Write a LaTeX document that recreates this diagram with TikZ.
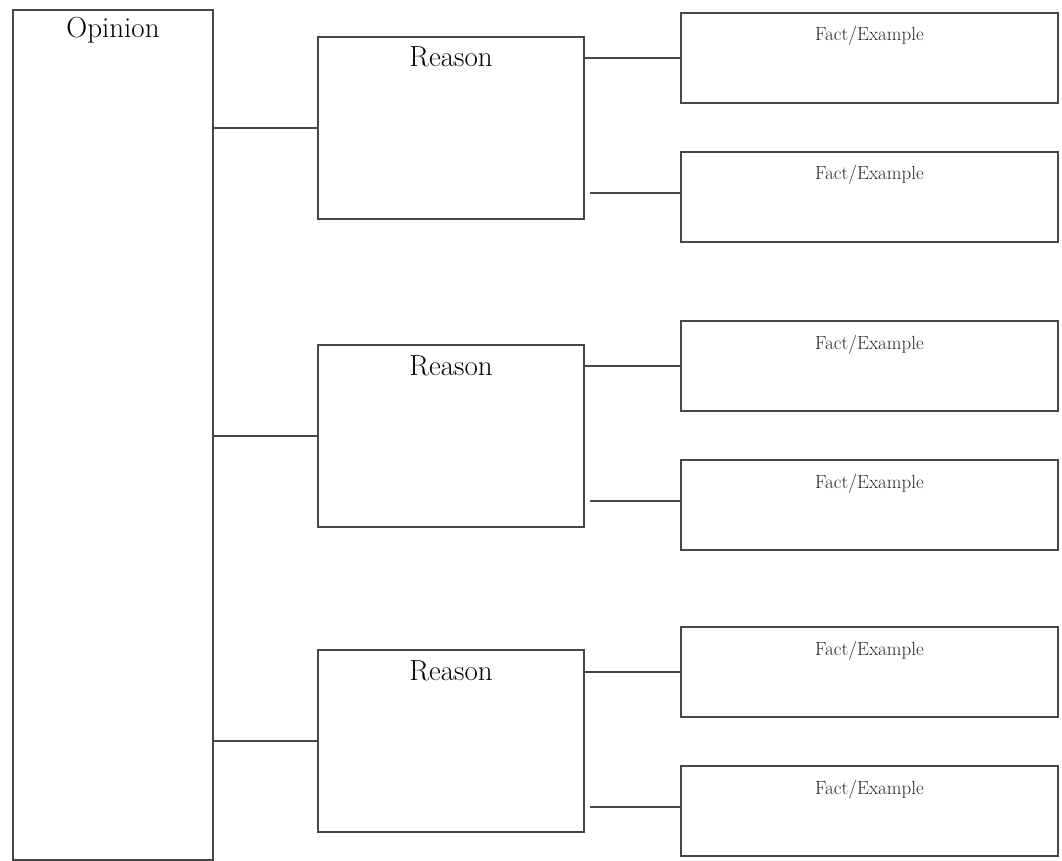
\documentclass[tikz,border=0pt]{standalone}
\begin{document}
\begin{tikzpicture}[x=1pt,y=-1pt,
  box/.style={draw=black!72,line width=1.9pt,rectangle,inner sep=0pt,outer sep=0pt,anchor=north west},
  conn/.style={draw=black!72,line width=1.9pt},
  bigtext/.style={anchor=base,font=\fontsize{29}{30}\selectfont,text=black},
  smalltext/.style={anchor=base,font=\fontsize{19}{20}\selectfont,text=black!85}]
\useasboundingbox (0,0) rectangle (1062,861);

% opinion column
\node[box,minimum width=200pt,minimum height=850pt] (op) at (13,10) {};
\node[bigtext] (opt) at ([yshift=-28pt]op.north) {Opinion};

% reason boxes
\foreach \i/\y in {1/37,2/345,3/650}{
  \node[box,minimum width=266pt,minimum height=182pt] (r\i) at (318,\y) {};
  \node[bigtext] (rt\i) at ([yshift=-30pt]r\i.north) {Reason};
}

% fact / example boxes
\foreach \i/\y in {1/13,2/152,3/321,4/460,5/627,6/766}{
  \node[box,minimum width=377pt,minimum height=90pt] (f\i) at (681,\y) {};
  \node[smalltext] (ft\i) at ([yshift=-28pt]f\i.north) {Fact/Example};
}

% opinion to reasons
\foreach \i in {1,2,3}{
  \draw[conn] (op.east |- r\i.west) -- (r\i.west);
}

% reasons to facts
\foreach \r/\a/\b in {1/1/2,2/3/4,3/5/6}{
  \draw[conn] (r\r.east |- f\a.west) -- (f\a.west);
  \draw[conn] ([xshift=6pt,yshift=4pt]r\r.east |- f\b.west) -- ([yshift=4pt]f\b.west);
}
\end{tikzpicture}
\end{document}
